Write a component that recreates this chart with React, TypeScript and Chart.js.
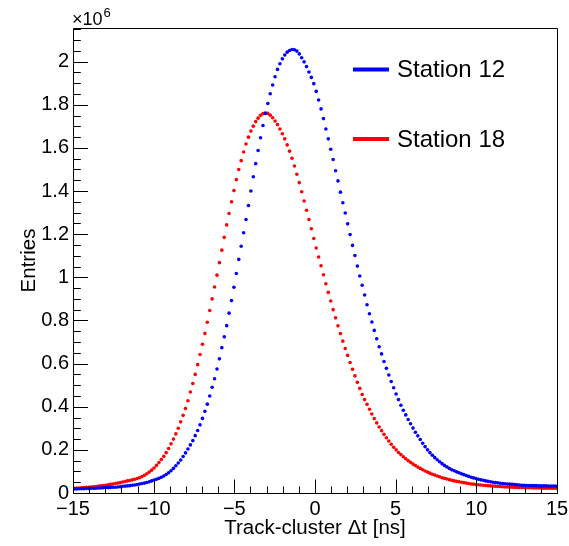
import React, { useEffect, useRef } from 'react';
import { Chart, registerables } from 'chart.js';

Chart.register(...registerables);

// ---- Data (histogram: 200 bins from -15 to 15 ns), values in units of 10^6 entries ----
const BIN_LOW = -15;
const BIN_WIDTH = 0.15;

const station12 = [
  0.019, 0.019, 0.020, 0.020, 0.020, 0.021, 0.021, 0.022, 0.022, 0.022,
  0.023, 0.023, 0.024, 0.025, 0.025, 0.026, 0.027, 0.027, 0.028, 0.029,
  0.031, 0.032, 0.033, 0.034, 0.036, 0.037, 0.039, 0.042, 0.044, 0.046,
  0.049, 0.052, 0.056, 0.060, 0.064, 0.068, 0.073, 0.079, 0.086, 0.094,
  0.103, 0.114, 0.126, 0.139, 0.153, 0.169, 0.186, 0.204, 0.223, 0.243,
  0.266, 0.290, 0.316, 0.346, 0.379, 0.412, 0.450, 0.490, 0.530, 0.575,
  0.622, 0.674, 0.724, 0.776, 0.834, 0.892, 0.954, 1.018, 1.083, 1.144,
  1.207, 1.268, 1.333, 1.400, 1.466, 1.527, 1.588, 1.647, 1.704, 1.760,
  1.806, 1.851, 1.892, 1.930, 1.964, 1.990, 2.013, 2.031, 2.044, 2.052,
  2.056, 2.055, 2.049, 2.036, 2.018, 1.999, 1.977, 1.952, 1.927, 1.898,
  1.862, 1.822, 1.781, 1.736, 1.688, 1.642, 1.594, 1.546, 1.494, 1.447,
  1.395, 1.346, 1.298, 1.248, 1.198, 1.148, 1.101, 1.052, 1.006, 0.963,
  0.918, 0.873, 0.831, 0.793, 0.754, 0.715, 0.678, 0.645, 0.610, 0.578,
  0.547, 0.517, 0.488, 0.459, 0.433, 0.407, 0.384, 0.362, 0.341, 0.321,
  0.301, 0.282, 0.265, 0.248, 0.231, 0.215, 0.200, 0.187, 0.175, 0.164,
  0.154, 0.145, 0.136, 0.128, 0.121, 0.114, 0.108, 0.103, 0.098, 0.094,
  0.089, 0.085, 0.081, 0.077, 0.073, 0.070, 0.067, 0.064, 0.061, 0.059,
  0.056, 0.054, 0.052, 0.050, 0.048, 0.047, 0.045, 0.044, 0.043, 0.042,
  0.041, 0.040, 0.039, 0.038, 0.037, 0.036, 0.036, 0.035, 0.035, 0.034,
  0.034, 0.034, 0.033, 0.033, 0.033, 0.033, 0.032, 0.032, 0.032, 0.032,
];

const station18 = [
  0.022, 0.023, 0.023, 0.024, 0.025, 0.026, 0.027, 0.028, 0.029, 0.030,
  0.032, 0.033, 0.035, 0.036, 0.038, 0.040, 0.042, 0.044, 0.046, 0.048,
  0.051, 0.053, 0.056, 0.058, 0.061, 0.064, 0.067, 0.071, 0.076, 0.082,
  0.089, 0.097, 0.106, 0.116, 0.128, 0.141, 0.155, 0.170, 0.187, 0.206,
  0.228, 0.250, 0.274, 0.300, 0.330, 0.360, 0.392, 0.428, 0.468, 0.508,
  0.550, 0.595, 0.642, 0.690, 0.740, 0.792, 0.846, 0.900, 0.955, 1.010,
  1.068, 1.126, 1.185, 1.243, 1.296, 1.350, 1.402, 1.453, 1.500, 1.541,
  1.581, 1.618, 1.650, 1.678, 1.701, 1.722, 1.738, 1.751, 1.759, 1.762,
  1.760, 1.752, 1.740, 1.725, 1.708, 1.688, 1.666, 1.642, 1.614, 1.585,
  1.552, 1.516, 1.478, 1.439, 1.397, 1.354, 1.311, 1.268, 1.225, 1.180,
  1.136, 1.094, 1.054, 1.012, 0.970, 0.930, 0.890, 0.850, 0.812, 0.775,
  0.739, 0.704, 0.670, 0.638, 0.605, 0.574, 0.543, 0.513, 0.485, 0.457,
  0.433, 0.411, 0.388, 0.366, 0.345, 0.325, 0.306, 0.289, 0.272, 0.256,
  0.241, 0.226, 0.212, 0.200, 0.188, 0.178, 0.168, 0.159, 0.150, 0.142,
  0.134, 0.127, 0.120, 0.114, 0.108, 0.102, 0.097, 0.092, 0.087, 0.083,
  0.079, 0.075, 0.071, 0.068, 0.065, 0.062, 0.059, 0.056, 0.054, 0.052,
  0.050, 0.048, 0.046, 0.044, 0.042, 0.041, 0.039, 0.038, 0.037, 0.036,
  0.035, 0.034, 0.033, 0.032, 0.031, 0.030, 0.030, 0.029, 0.028, 0.028,
  0.027, 0.027, 0.026, 0.026, 0.025, 0.025, 0.025, 0.024, 0.024, 0.024,
  0.023, 0.023, 0.023, 0.023, 0.022, 0.022, 0.022, 0.022, 0.022, 0.022,
];

const seriesNames = ['Station 12', 'Station 18'];
const seriesColors = ['#0000ff', '#ff0000'];

const xTickValues = [-15, -10, -5, 0, 5, 10, 15];
const xTickLabels = ['\u221215', '\u221210', '\u22125', '0', '5', '10', '15'];
const yTickValues = [0, 0.2, 0.4, 0.6, 0.8, 1, 1.2, 1.4, 1.6, 1.8, 2];
const yTickLabels = ['0', '0.2', '0.4', '0.6', '0.8', '1', '1.2', '1.4', '1.6', '1.8', '2'];

const xMin = -15;
const xMax = 15;
const yMin = 0;
const yMax = 2.156;
const xMinorStep = 1;
const yMinorStep = 0.05;

const xTitle = 'Track-cluster \u0394t [ns]';
const yTitle = 'Entries';
const yExponentBase = '\u00d710';
const yExponent = '6';

const FONT = "'Liberation Sans', Arial, Helvetica, sans-serif";

function toPoints(values: number[]) {
  return values.map((v, i) => ({ x: BIN_LOW + (i + 0.5) * BIN_WIDTH, y: v }));
}

function isOn(v: number, list: number[]) {
  return list.some((t) => Math.abs(t - v) < 1e-6);
}

const rootDecor = {
  id: 'rootDecor',
  afterDraw(chart: any) {
    const { ctx, chartArea } = chart;
    const { left, right, top, bottom } = chartArea;
    const xs = chart.scales.x;
    const ys = chart.scales.y;
    ctx.save();
    ctx.strokeStyle = '#000';
    ctx.lineWidth = 1;
    const L = Math.round(left) + 0.5;
    const R = Math.round(right) + 0.5;
    const T = Math.round(top) + 0.5;
    const B = Math.round(bottom) + 0.5;
    ctx.beginPath();
    ctx.moveTo(L, T); ctx.lineTo(R, T); ctx.lineTo(R, B); ctx.lineTo(L, B); ctx.closePath();
    ctx.stroke();
    ctx.beginPath();
    const nx = Math.round((xMax - xMin) / xMinorStep);
    for (let k = 0; k <= nx; k++) {
      const v = xMin + k * xMinorStep;
      const px = Math.round(xs.getPixelForValue(v)) + 0.5;
      const len = isOn(v, xTickValues) ? 14 : 7;
      ctx.moveTo(px, B);
      ctx.lineTo(px, B - len);
    }
    const ny = Math.floor((yMax - yMin) / yMinorStep + 1e-6);
    for (let k = 0; k <= ny; k++) {
      const v = yMin + k * yMinorStep;
      const py = Math.round(ys.getPixelForValue(v)) + 0.5;
      const len = isOn(v, yTickValues) ? 14.5 : 7.3;
      ctx.moveTo(L, py);
      ctx.lineTo(L + len, py);
    }
    ctx.stroke();

    ctx.fillStyle = '#000';
    ctx.textBaseline = 'alphabetic';
    ctx.textAlign = 'left';
    ctx.font = `18px ${FONT}`;
    ctx.fillText(yExponentBase, left - 1, 25);
    const w = ctx.measureText(yExponentBase).width;
    ctx.font = `13px ${FONT}`;
    ctx.fillText(yExponent, left - 1 + w + 1, 17);

    const legendX1 = 353, legendX2 = 389, textX = 397;
    const rows = [69.5, 139];
    ctx.font = `24px ${FONT}`;
    seriesNames.forEach((name, i) => {
      ctx.strokeStyle = seriesColors[i];
      ctx.lineWidth = 4;
      ctx.beginPath();
      ctx.moveTo(legendX1, rows[i]);
      ctx.lineTo(legendX2, rows[i]);
      ctx.stroke();
      ctx.fillStyle = '#000';
      ctx.fillText(name, textX, rows[i] + 7.5);
    });
    ctx.restore();
  },
};

export default function App() {
  const canvasRef = useRef<HTMLCanvasElement | null>(null);

  useEffect(() => {
    const canvas = canvasRef.current;
    if (!canvas) return;
    const chart = new Chart(canvas, {
      type: 'scatter',
      data: {
        datasets: [
          {
            label: seriesNames[0],
            data: toPoints(station12),
            backgroundColor: seriesColors[0],
            borderColor: seriesColors[0],
            pointRadius: 1.8,
            pointBorderWidth: 0,
            showLine: false,
          },
          {
            label: seriesNames[1],
            data: toPoints(station18),
            backgroundColor: seriesColors[1],
            borderColor: seriesColors[1],
            pointRadius: 1.8,
            pointBorderWidth: 0,
            showLine: false,
          },
        ],
      },
      options: {
        animation: false,
        responsive: false,
        devicePixelRatio: 1,
        layout: { padding: { left: 0, right: 12, top: 28, bottom: 0 } },
        plugins: {
          legend: { display: false },
          tooltip: { enabled: false },
        },
        scales: {
          x: {
            type: 'linear',
            position: 'bottom',
            min: xMin,
            max: xMax,
            grid: { display: false, drawTicks: false },
            border: { display: false },
            afterBuildTicks: (s: any) => {
              s.ticks = xTickValues.map((v) => ({ value: v }));
            },
            ticks: {
              color: '#000',
              padding: 4,
              maxRotation: 0,
              autoSkip: false,
              font: { family: FONT, size: 20 },
              callback: (v: any) => xTickLabels[xTickValues.findIndex((t) => Math.abs(t - Number(v)) < 1e-6)] ?? '',
            },
            title: {
              display: true,
              text: xTitle,
              color: '#000',
              font: { family: FONT, size: 20.5 },
              padding: { top: 0, bottom: 5 },
            },
            afterFit: (s: any) => {
              s.height = 53;
              s.paddingLeft = 0;
              s.paddingRight = 0;
            },
          },
          y: {
            type: 'linear',
            position: 'left',
            min: yMin,
            max: yMax,
            grid: { display: false, drawTicks: false },
            border: { display: false },
            afterBuildTicks: (s: any) => {
              s.ticks = yTickValues.map((v) => ({ value: v }));
            },
            ticks: {
              color: '#000',
              padding: 4,
              autoSkip: false,
              font: { family: FONT, size: 20 },
              callback: (v: any) => yTickLabels[yTickValues.findIndex((t) => Math.abs(t - Number(v)) < 1e-6)] ?? '',
            },
            title: {
              display: true,
              text: yTitle,
              color: '#000',
              font: { family: FONT, size: 20.5 },
              padding: { top: 17, bottom: 0 },
            },
            afterFit: (s: any) => {
              s.width = 73;
              s.paddingTop = 0;
              s.paddingBottom = 0;
            },
          },
        },
      },
      plugins: [rootDecor],
    });
    return () => chart.destroy();
  }, []);

  return (
    <div style={{ position: 'absolute', left: 0, top: 0, width: 569, height: 546, background: '#fff' }}>
      <canvas ref={canvasRef} width={569} height={546} style={{ display: 'block' }} />
    </div>
  );
}
